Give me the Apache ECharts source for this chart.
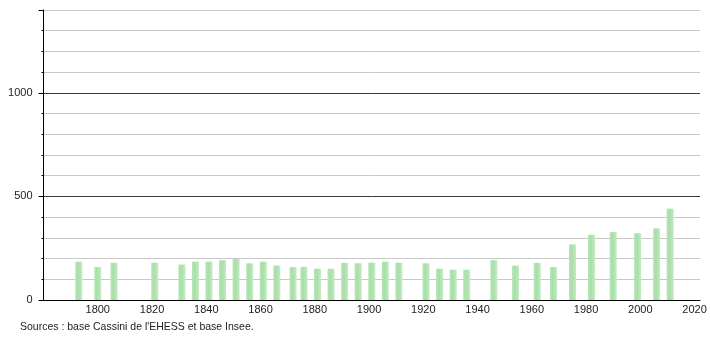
<!DOCTYPE html>
<html>
<head>
<meta charset="utf-8">
<script src="https://cdn.jsdelivr.net/npm/echarts@6/dist/echarts.min.js"></script>
<style>
html,body{margin:0;padding:0;background:#fff;}
#chart{width:710px;height:340px;}
</style>
</head>
<body>
<div id="chart"></div>
<script>
var years = [1793,1800,1806,1821,1831,1836,1841,1846,1851,1856,1861,1866,1872,1876,1881,1886,1891,1896,1901,1906,1911,1921,1926,1931,1936,1946,1954,1962,1968,1975,1982,1990,1999,2006,2011];
var population = [185,159,180,180,171,185,185,192,198,177,185,166,159,160,151,151,179,177,180,185,180,177,151,146,146,192,166,179,159,268,315,328,322,346,441];
var xTickLabels = [1800,1820,1840,1860,1880,1900,1920,1940,1960,1980,2000,2020];
var yTickLabels = [0,500,1000];
var sourceText = "Sources : base Cassini de l'EHESS et base Insee.";

var chart = echarts.init(document.getElementById('chart'), null, {renderer:'canvas'});
var font = 'Liberation Sans, Arial, sans-serif';
var barData = years.map(function(y,i){ return [y, population[i]]; });

chart.setOption({
  animation:false,
  backgroundColor:'#fff',
  grid:{left:43.5, right:10, top:10, bottom:40, containLabel:false},
  title:{
    text: sourceText,
    left: 15, top: 317,
    textStyle:{fontFamily:font, fontSize:10.5, fontWeight:'normal', color:'#222'}
  },
  xAxis:{
    type:'value', min:1780, max:2022, interval:20,
    axisLine:{show:true, onZero:false, lineStyle:{color:'#000', width:1}},
    axisTick:{show:false},
    splitLine:{show:false},
    axisLabel:{
      margin:4, fontFamily:font, fontSize:11, color:'#222',
      formatter:function(v){ return xTickLabels.indexOf(v) >= 0 ? String(v) : ''; }
    }
  },
  yAxis:[
    {
      type:'value', min:0, max:1400, interval:100, position:'left',
      axisLine:{show:true, lineStyle:{color:'#000', width:1}},
      axisTick:{show:true, length:2, lineStyle:{color:'#000'}},
      axisLabel:{show:false},
      splitLine:{show:true, lineStyle:{color:['#3a3a3a','#c8c8c8','#c8c8c8','#c8c8c8','#c8c8c8'], width:1}}
    },
    {
      type:'value', min:0, max:1400, interval:500, position:'left',
      axisLine:{show:false},
      axisTick:{show:true, length:5, lineStyle:{color:'#000'}},
      splitLine:{show:false},
      axisLabel:{
        margin:11, fontFamily:font, fontSize:11, color:'#222',
        formatter:function(v){ return yTickLabels.indexOf(v) >= 0 ? String(v) : ''; }
      }
    }
  ],
  series:[{
    type:'bar',
    yAxisIndex:0,
    barWidth:7,
    data:barData,
    itemStyle:{
      color:new echarts.graphic.LinearGradient(0,0,1,0,[
        {offset:0, color:'#b8e6b8'},
        {offset:0.4, color:'#a8dea8'},
        {offset:1, color:'#c4ebc4'}
      ])
    }
  }]
});
</script>
</body>
</html>
